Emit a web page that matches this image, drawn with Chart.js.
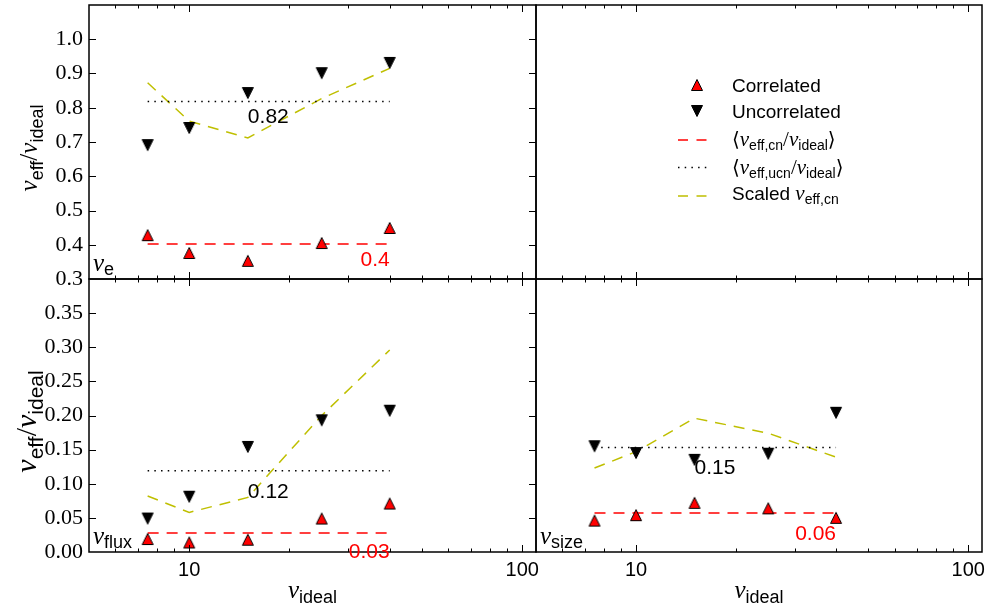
<!DOCTYPE html>
<html>
<head>
<meta charset="utf-8">
<script src="https://cdn.jsdelivr.net/npm/chart.js@4"></script>
<style>
  html, body { margin: 0; padding: 0; background: #fff; }
  #wrap { position: relative; width: 988px; height: 610px; overflow: hidden; background: #fff; }
  canvas { position: absolute; }
</style>
</head>
<body>
<div id="wrap">
  <canvas id="c-tl" width="537" height="300" style="left:0;top:0"></canvas>
  <canvas id="c-tr" width="454" height="281" style="left:534px;top:0"></canvas>
  <canvas id="c-bl" width="546" height="333" style="left:0;top:277px"></canvas>
  <canvas id="c-br" width="454" height="333" style="left:534px;top:277px"></canvas>
</div>
<script>
// nu_ideal values shared by all panels
const nuIdeal = [7.5, 10, 15, 25, 40];

// nu_e panel
const eCorr = [0.428, 0.376, 0.353, 0.405, 0.449];
const eUncorr = [0.691, 0.741, 0.843, 0.901, 0.931];
const eScaled = [0.873, 0.761, 0.712, 0.827, 0.915];
const eMeans = [0.402, 0.818];
const eMeanLabels = ['0.4', '0.82'];

// nu_flux panel
const fluxCorr = [0.019, 0.014, 0.018, 0.049, 0.071];
const fluxUncorr = [0.049, 0.081, 0.154, 0.193, 0.207];
const fluxScaled = [0.082, 0.058, 0.080, 0.200, 0.296];
const fluxMeans = [0.028, 0.119];
const fluxMeanLabels = ['0.03', '0.12'];

// nu_size panel
const sizeCorr = [0.046, 0.054, 0.072, 0.064, 0.050];
const sizeUncorr = [0.155, 0.145, 0.135, 0.144, 0.204];
const sizeScaled = [0.123, 0.147, 0.196, 0.174, 0.139];
const sizeMeans = [0.057, 0.153];
const sizeMeanLabels = ['0.06', '0.15'];

// axes
const xTicks = [5, 6, 7, 8, 9, 10, 20, 30, 40, 50, 60, 70, 80, 90, 100];
const xMajor = [10, 100];
const yTicksTop = [0.3, 0.4, 0.5, 0.6, 0.7, 0.8, 0.9, 1.0, 1.1];
const yLabelsTop = ['0.3', '0.4', '0.5', '0.6', '0.7', '0.8', '0.9', '1.0', ''];
const yTicksBottom = [0, 0.05, 0.1, 0.15, 0.2, 0.25, 0.3, 0.35, 0.4];
const yLabelsBottom = ['0.00', '0.05', '0.10', '0.15', '0.20', '0.25', '0.30', '0.35', ''];

const legendLabels = ['Correlated', 'Uncorrelated'];

const RED = '#ff0000';
const YEL = '#bfbf00';
const SANS = '"Liberation Sans", Arial, sans-serif';
const SERIF = '"Liberation Serif", "Times New Roman", serif';
const nu = s => `italic ${s}px ${SERIF}`;
const sub = s => `${s}px ${SANS}`;

// matplotlib-like triangle markers
function triMarker(fill, down) {
  const c = document.createElement('canvas');
  c.width = 14; c.height = 14;
  const g = c.getContext('2d');
  g.beginPath();
  if (down) { g.moveTo(7, 12.5); g.lineTo(1.5, 1.5); g.lineTo(12.5, 1.5); }
  else { g.moveTo(7, 1.5); g.lineTo(1.5, 12.5); g.lineTo(12.5, 12.5); }
  g.closePath();
  g.fillStyle = fill; g.fill();
  g.lineWidth = 1; g.strokeStyle = '#000'; g.stroke();
  return c;
}
const upTri = triMarker(RED, false);
const downTri = triMarker('#000', true);

const pts = ys => nuIdeal.map((x, i) => ({ x, y: ys[i] }));
const flat = v => [{ x: nuIdeal[0], y: v }, { x: nuIdeal[nuIdeal.length - 1], y: v }];

function panelSets(corr, uncorr, scaled, means) {
  return [
    { data: pts(corr), pointStyle: upTri, pointRadius: 7 },
    { data: pts(uncorr), pointStyle: downTri, pointRadius: 7 },
    { data: flat(means[0]), showLine: true, pointRadius: 0, borderColor: RED, borderWidth: 1.5, borderDash: [11, 8] },
    { data: flat(means[1]), showLine: true, pointRadius: 0, borderColor: '#000', borderWidth: 1.5, borderDash: [1.5, 5.2] },
    { data: pts(scaled), showLine: true, pointRadius: 0, borderColor: YEL, borderWidth: 1.5, borderDash: [11, 8] },
  ];
}

// text with subscript pieces: [text, font, dy]
function rich(ctx, parts, x, y, align, color) {
  let w = 0;
  parts.forEach(p => { ctx.font = p[1]; w += ctx.measureText(p[0]).width; });
  let cx = align === 'center' ? x - w / 2 : align === 'right' ? x - w : x;
  ctx.textBaseline = 'alphabetic';
  ctx.textAlign = 'left';
  ctx.fillStyle = color || '#000';
  parts.forEach(p => {
    ctx.font = p[1];
    ctx.fillText(p[0], cx, y + (p[2] || 0));
    cx += ctx.measureText(p[0]).width;
  });
}

const frame = {
  id: 'frame',
  afterDraw(chart) {
    const { ctx, chartArea: a, scales: { x, y } } = chart;
    ctx.save();
    ctx.strokeStyle = '#000';
    ctx.lineWidth = 1;
    ctx.beginPath();
    x.ticks.forEach(t => {
      const px = Math.round(x.getPixelForValue(t.value)) + 0.5;
      if (px < a.left + 2 || px > a.right - 2) return;
      const len = xMajor.includes(t.value) ? 7 : 3.5;
      ctx.moveTo(px, a.bottom); ctx.lineTo(px, a.bottom - len);
      ctx.moveTo(px, a.top); ctx.lineTo(px, a.top + len);
    });
    y.ticks.forEach(t => {
      const py = Math.round(y.getPixelForValue(t.value)) + 0.5;
      if (py < a.top + 2 || py > a.bottom - 2) return;
      ctx.moveTo(a.left, py); ctx.lineTo(a.left + 7, py);
      ctx.moveTo(a.right, py); ctx.lineTo(a.right - 7, py);
    });
    ctx.stroke();
    ctx.lineWidth = 1.5;
    ctx.strokeRect(a.left, a.top, a.width, a.height);
    ctx.restore();
  }
};

function notes(o) {
  return {
    id: 'notes',
    afterDraw(chart) {
      const { ctx, chartArea: a, scales: { x, y } } = chart;
      ctx.save();
      if (o.means) {
        ctx.font = `21px ${SANS}`;
        ctx.fillStyle = '#000';
        ctx.textAlign = 'left';
        ctx.textBaseline = 'alphabetic';
        ctx.fillText(o.meanLabels[1], x.getPixelForValue(15), y.getPixelForValue(o.means[1]) + o.off[1]);
        ctx.fillStyle = RED;
        ctx.textAlign = 'right';
        ctx.fillText(o.meanLabels[0], x.getPixelForValue(40), y.getPixelForValue(o.means[0]) + o.off[0]);
      }
      if (o.name) rich(ctx, [['ν', nu(25)], [o.name, sub(18), 4]], a.left + 4, a.bottom - 8);
      if (o.yTitle) {
        ctx.save();
        ctx.translate(o.yTitle.x, (a.top + a.bottom) / 2 + o.yTitle.dy);
        ctx.rotate(-Math.PI / 2);
        const s = o.yTitle.size, ss = Math.round(s * 0.7);
        rich(ctx, [['ν', nu(s)], ['eff', sub(ss), s * 0.22], ['/', `${s}px ${SERIF}`], ['ν', nu(s)], ['ideal', sub(ss), s * 0.22]], 0, 0, 'center');
        ctx.restore();
      }
      if (o.xTitle) {
        rich(ctx, [['ν', nu(25)], ['ideal', sub(18), 5]], (a.left + a.right) / 2, a.bottom + 46, 'center');
      }
      if (o.legend) {
        const mx = a.left + 161, tx = a.left + 196;
        ctx.drawImage(upTri, mx - 7, a.top + 80 - 7);
        ctx.drawImage(downTri, mx - 7, a.top + 106 - 7);
        const seg = (yy, color, dash) => {
          ctx.beginPath();
          ctx.setLineDash(dash);
          ctx.strokeStyle = color; ctx.lineWidth = 1.5;
          ctx.moveTo(a.left + 142, yy); ctx.lineTo(a.left + 172, yy);
          ctx.stroke();
        };
        seg(a.top + 135, RED, [10, 8.5]);
        seg(a.top + 162.5, '#000', [1.5, 5.2]);
        seg(a.top + 191, YEL, [10, 8.5]);
        ctx.setLineDash([]);
        const LF = `19px ${SANS}`;
        rich(ctx, [[legendLabels[0], LF]], tx, a.top + 87);
        rich(ctx, [[legendLabels[1], LF]], tx, a.top + 113);
        const br = `20px "DejaVu Serif", ${SERIF}`;
        rich(ctx, [['⟨', br], ['ν', nu(21)], ['eff,cn', sub(14), 4], ['/', `21px ${SERIF}`], ['ν', nu(21)], ['ideal', sub(14), 4], ['⟩', br]], tx, a.top + 141);
        rich(ctx, [['⟨', br], ['ν', nu(21)], ['eff,ucn', sub(14), 4], ['/', `21px ${SERIF}`], ['ν', nu(21)], ['ideal', sub(14), 4], ['⟩', br]], tx, a.top + 169);
        rich(ctx, [['Scaled ', LF], ['ν', nu(21)], ['eff,cn', sub(14), 4]], tx, a.top + 195);
      }
      ctx.restore();
    }
  };
}

const noPad = s => { s.paddingLeft = 0; s.paddingRight = 0; s.paddingTop = 0; s.paddingBottom = 0; };

function makePanel(id, p) {
  return new Chart(document.getElementById(id), {
    type: 'scatter',
    data: { datasets: p.datasets },
    options: {
      responsive: false,
      animation: false,
      events: [],
      layout: { padding: p.padding, autoPadding: false },
      plugins: { legend: { display: false }, tooltip: { enabled: false } },
      scales: {
        x: {
          type: 'logarithmic',
          min: 5,
          max: 110,
          grid: { display: false, drawTicks: false },
          border: { display: false },
          afterBuildTicks: s => { s.ticks = xTicks.map(v => ({ value: v })); },
          afterFit: s => { s.height = p.xHeight; noPad(s); },
          ticks: {
            display: p.xLabels,
            autoSkip: false,
            maxRotation: 0,
            padding: 6,
            color: '#000',
            font: { family: SANS, size: 20 },
            callback: v => (xMajor.includes(v) ? String(v) : ''),
          },
        },
        y: {
          type: 'linear',
          min: p.yTicks[0],
          max: p.yTicks[p.yTicks.length - 1],
          grid: { display: false, drawTicks: false },
          border: { display: false },
          afterBuildTicks: s => { s.ticks = p.yTicks.map(v => ({ value: v })); },
          afterFit: s => { s.width = p.yWidth; noPad(s); },
          ticks: {
            display: p.yLabels.length > 0,
            autoSkip: false,
            padding: 6,
            color: '#000',
            font: { family: SERIF, size: 22 },
            callback: (v, i) => p.yLabels[i],
          },
        },
      },
    },
    plugins: [frame, notes(p.notes)],
  });
}

makePanel('c-tl', {
  datasets: panelSets(eCorr, eUncorr, eScaled, eMeans),
  padding: { top: 5, right: 1, bottom: 0, left: 0 },
  xHeight: 21, xLabels: false, yWidth: 89,
  yTicks: yTicksTop, yLabels: yLabelsTop,
  notes: { means: eMeans, meanLabels: eMeanLabels, off: [22, 21], name: 'e', yTitle: { x: 37, size: 25, dy: 6 } },
});

makePanel('c-tr', {
  datasets: [],
  padding: { top: 5, right: 6, bottom: 0, left: 2 },
  xHeight: 2, xLabels: false, yWidth: 0,
  yTicks: yTicksTop, yLabels: [],
  notes: { legend: true },
});

makePanel('c-bl', {
  datasets: panelSets(fluxCorr, fluxUncorr, fluxScaled, fluxMeans),
  padding: { top: 2, right: 10, bottom: 0, left: 0 },
  xHeight: 58, xLabels: true, yWidth: 89,
  yTicks: yTicksBottom, yLabels: yLabelsBottom,
  notes: { means: fluxMeans, meanLabels: fluxMeanLabels, off: [25, 27], name: 'flux', yTitle: { x: 36, size: 30, dy: 6 }, xTitle: true },
});

makePanel('c-br', {
  datasets: panelSets(sizeCorr, sizeUncorr, sizeScaled, sizeMeans),
  padding: { top: 2, right: 6, bottom: 0, left: 2 },
  xHeight: 58, xLabels: true, yWidth: 0,
  yTicks: yTicksBottom, yLabels: [],
  notes: { means: sizeMeans, meanLabels: sizeMeanLabels, off: [27, 26], name: 'size', xTitle: true },
});
</script>
</body>
</html>
